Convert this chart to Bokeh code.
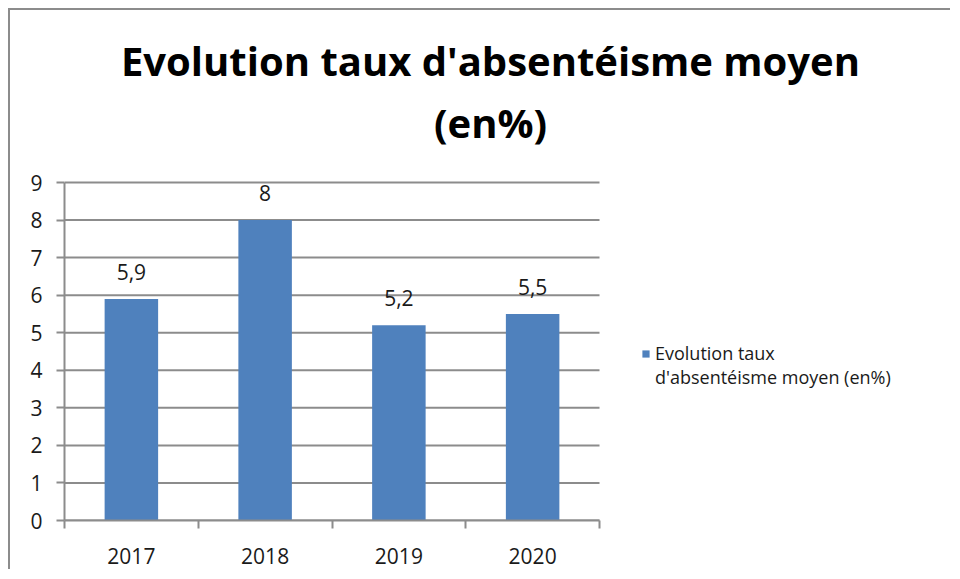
from bokeh.plotting import figure
from bokeh.models import Range1d, FixedTicker, Legend, LegendItem, Label
from bokeh.core.properties import value
from bokeh.embed import file_html
from bokeh.resources import INLINE

years = ["2017", "2018", "2019", "2020"]
rates = [5.9, 8.0, 5.2, 5.5]
legend_lines = ["Evolution taux", "d'absentéisme moyen (en%)"]
title_lines = ["Evolution taux d'absentéisme moyen", "(en%)"]
y_ticks = list(range(0, 10))

FONT = "Open Sans"
GRID = "#8c8c8c"
BAR = "#4f81bd"
TXT = "#1a1a1a"

n = len(years)
centers = [i + 0.5 for i in range(n)]
bounds = list(range(n + 1))
labels = [("%g" % v).replace(".", ",") for v in rates]
y_max = max(y_ticks)

# frame spans the whole canvas area right of / above the axes;
# the value area 0..n x 0..9 occupies 535 x 338 px of it
X_END = n * 888 / 535
Y_END = y_max * 510 / 338

p = figure(width=942, height=561, output_backend="svg", toolbar_location=None,
           x_range=Range1d(0, X_END), y_range=Range1d(0, Y_END),
           min_border_left=54, min_border_right=0, min_border_top=0,
           min_border_bottom=51)
p.styles = {"margin-left": "8px", "margin-top": "8px",
            "border-top": "2px solid #8c8c8c", "border-left": "2px solid #8c8c8c",
            "border-right": "none", "border-bottom": "none"}
p.outline_line_color = None
p.background_fill_color = "white"
p.border_fill_color = "white"

# horizontal gridlines limited to the value area
p.segment(x0=[0] * len(y_ticks), x1=[n] * len(y_ticks), y0=y_ticks, y1=y_ticks,
          line_color=GRID, line_width=2)

bars = p.vbar(x=centers, top=rates, width=0.4, fill_color=BAR, line_color=None)
p.text(x=centers, y=rates, text=labels, text_align="center", text_baseline="middle",
       y_offset=-27, text_font=value(FONT), text_font_size="21px", text_color=TXT)

# x axis
xa = p.xaxis[0]
xa.bounds = (0, n)
xa.ticker = FixedTicker(ticks=centers, minor_ticks=bounds)
xa.major_label_overrides = {c: y for c, y in zip(centers, years)}
xa.major_tick_line_color = None
xa.major_tick_out = 0
xa.major_tick_in = 0
xa.minor_tick_out = 8
xa.minor_tick_in = 0
xa.minor_tick_line_color = GRID
xa.minor_tick_line_width = 2
xa.axis_line_color = GRID
xa.axis_line_width = 2
xa.major_label_standoff = 19
xa.major_label_text_font = FONT
xa.major_label_text_font_size = "21px"
xa.major_label_text_color = TXT

ya = p.yaxis[0]
ya.bounds = (0, y_max)
ya.ticker = FixedTicker(ticks=y_ticks)
ya.major_tick_out = 8
ya.major_tick_in = 0
ya.minor_tick_line_color = None
ya.major_tick_line_color = GRID
ya.major_tick_line_width = 2
ya.axis_line_color = GRID
ya.axis_line_width = 2
ya.major_label_standoff = 14
ya.major_label_text_font = FONT
ya.major_label_text_font_size = "21px"
ya.major_label_text_color = TXT

p.xgrid.grid_line_color = None
p.ygrid.grid_line_color = None

# title as two centered lines (data units, above the value area)
for txt, yy in zip(title_lines, [12.24, 10.60]):
    p.add_layout(Label(x=3.185, y=yy, text=txt,
                       text_align="center", text_baseline="middle",
                       text_font=FONT, text_font_style="bold", text_font_size="40px",
                       text_color="black"))

# legend: marker on first line only
blank = p.vbar(x=[], top=[], width=0.4, fill_alpha=0, line_alpha=0)
legend = Legend(items=[LegendItem(label=legend_lines[0], renderers=[bars]),
                       LegendItem(label=legend_lines[1], renderers=[blank])],
                location=(577, 131), border_line_color=None, background_fill_alpha=0,
                glyph_width=9, glyph_height=9, label_standoff=5, label_height=19,
                label_text_font=FONT, label_text_font_size="18px",
                label_text_color=TXT, padding=0, margin=0, spacing=-5)
p.add_layout(legend, "center")

open("out.html", "w").write(file_html(p, INLINE))
